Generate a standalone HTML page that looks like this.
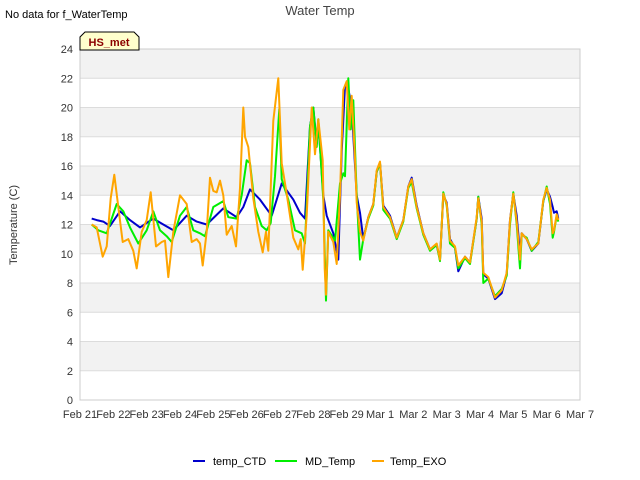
<!DOCTYPE html>
<html><head><meta charset="utf-8"><style>
body{margin:0;background:#fff;font-family:"Liberation Sans","DejaVu Sans",sans-serif;}
svg{display:block}
</style></head><body>
<svg id="c" width="640" height="480" xmlns="http://www.w3.org/2000/svg">
<text x="5" y="18" font-size="11" fill="#000">No data for f_WaterTemp</text>
<text x="320" y="15" font-size="13" fill="#444" text-anchor="middle">Water Temp</text>
<g id="plot"></g>
<text transform="translate(17,225) rotate(-90)" font-size="11" fill="#333" text-anchor="middle">Temperature (C)</text>
<g>
<path d="M80,50 L80,37 L85,32 L134,32 L139,37 L139,50 Z" fill="#ffffcc" stroke="#000" stroke-width="1"/>
<text x="109" y="46" font-size="11" font-weight="bold" fill="#8b0000" text-anchor="middle">HS_met</text>
</g>
<g>
<g><line x1="193" y1="461" x2="205" y2="461" stroke="#0000cc" stroke-width="2"/><text x="213" y="465" font-size="11">temp_CTD</text></g>
<g><line x1="275" y1="461" x2="297" y2="461" stroke="#00ee00" stroke-width="2"/><text x="305" y="465" font-size="11">MD_Temp</text></g>
<g><line x1="372" y1="461" x2="384" y2="461" stroke="#ffa500" stroke-width="2"/><text x="390" y="465" font-size="11">Temp_EXO</text></g>
</g>
</svg>
<script>
const xTickLabels=["Feb 21","Feb 22","Feb 23","Feb 24","Feb 25","Feb 26","Feb 27","Feb 28","Feb 29","Mar 1","Mar 2","Mar 3","Mar 4","Mar 5","Mar 6","Mar 7"];
const yTicks=[0,2,4,6,8,10,12,14,16,18,20,22,24];
const lateT=[8.65,8.8,8.9,9.0,9.1,9.3,9.5,9.7,9.85,9.95,10.1,10.3,10.5,10.7,10.8,10.9,11.0,11.1,11.25,11.35,11.55,11.7,11.9,11.95,12.05,12.1,12.25,12.45,12.65,12.8,12.9,13.0,13.1,13.2,13.25,13.4,13.55,13.75,13.9,14.0,14.1,14.18,14.22,14.3,14.35];
const lateExo=[12.5,13.4,15.7,16.3,13.2,12.5,11.1,12.3,14.6,15.1,13.2,11.4,10.3,10.7,9.6,14.1,13.4,10.9,10.5,9.2,9.8,9.4,12.5,13.8,12.2,8.7,8.4,7.0,7.5,8.7,12.3,14.1,12.2,9.6,11.4,11.0,10.3,10.7,13.7,14.5,13.7,11.4,11.6,12.7,12.3];
const lateMd=[12.4,13.3,15.6,16.2,13.0,12.4,11.0,12.2,14.5,14.9,13.1,11.3,10.2,10.6,9.5,14.2,13.3,10.7,10.4,9.0,9.7,9.3,12.4,13.9,12.0,8.0,8.3,7.1,7.6,8.5,12.0,14.2,12.0,9.0,11.3,11.1,10.2,10.8,13.6,14.6,13.4,11.1,11.5,12.6,12.2];
const lateCtd=[12.5,13.4,15.6,16.2,13.3,12.6,11.1,12.3,14.6,15.2,13.3,11.4,10.3,10.6,9.6,14.0,13.5,11.0,10.4,8.8,9.8,9.4,12.4,13.9,12.4,8.6,8.3,6.9,7.3,8.6,12.3,14.1,12.6,10.0,11.4,11.0,10.2,10.7,13.6,14.4,13.9,13.2,12.8,12.9,12.4];
const exoT=[0.35,0.5,0.68,0.8,0.92,1.03,1.15,1.28,1.45,1.6,1.7,1.85,2.0,2.12,2.28,2.45,2.55,2.65,2.8,3.0,3.2,3.35,3.5,3.6,3.68,3.8,3.9,4.0,4.1,4.2,4.3,4.4,4.55,4.68,4.8,4.9,4.95,5.05,5.2,5.35,5.48,5.58,5.65,5.8,5.95,6.05,6.2,6.4,6.55,6.62,6.68,6.8,6.95,7.05,7.15,7.28,7.34,7.38,7.45,7.6,7.7,7.8,7.9,8.0,8.08,8.15,8.25,8.3,8.4,8.5];
const exoV=[12.0,11.8,9.8,10.5,13.8,15.4,13.2,10.8,11.0,10.2,9.0,11.5,12.3,14.2,10.5,10.8,10.9,8.4,11.5,14.0,13.4,10.8,11.0,10.7,9.2,11.5,15.2,14.3,14.2,15.0,14.0,11.3,11.9,10.5,14.5,20.0,18.0,17.3,13.8,11.5,10.1,11.5,10.2,19.1,22.0,16.2,14.1,11.1,10.3,11.0,8.9,12.6,20.0,16.8,19.2,16.4,9.0,7.2,11.5,10.8,9.3,14.0,21.2,21.8,18.5,20.8,16.5,13.5,11.5,10.9];
const mdT=[0.35,0.55,0.8,1.1,1.3,1.5,1.75,2.0,2.2,2.4,2.6,2.75,3.0,3.2,3.4,3.6,3.75,4.0,4.3,4.45,4.7,4.85,5.0,5.1,5.25,5.45,5.6,5.72,5.85,5.98,6.05,6.25,6.45,6.65,6.75,6.9,7.0,7.1,7.15,7.3,7.38,7.45,7.65,7.8,7.9,7.95,8.05,8.12,8.2,8.3,8.4,8.5];
const mdV=[12.0,11.6,11.4,13.4,12.9,11.8,10.7,11.6,12.9,11.6,11.2,10.8,12.6,13.2,11.6,11.4,11.2,13.2,13.6,12.5,12.4,14.0,16.4,16.2,13.2,11.9,11.6,12.1,15.3,19.9,15.1,13.7,11.6,11.4,10.7,18.7,20.0,17.3,19.2,13.7,6.8,11.6,10.9,14.8,15.5,15.3,22.0,18.5,20.5,14.0,9.6,11.0];
const ctdT=[0.35,0.5,0.7,0.9,1.2,1.5,1.8,2.2,2.5,2.8,3.2,3.5,3.8,4.3,4.7,4.9,5.1,5.4,5.75,6.05,6.4,6.6,6.75,6.9,7.0,7.1,7.15,7.3,7.4,7.6,7.75,7.85,7.95,8.05,8.15,8.3,8.4,8.5];
const ctdV=[12.4,12.3,12.2,11.9,12.9,12.3,11.8,12.4,12.0,11.6,12.6,12.2,12.0,13.1,12.5,13.2,14.4,13.7,12.6,14.8,13.7,12.8,12.4,18.7,20.0,17.5,19.0,14.0,12.6,11.4,9.6,17.0,21.5,21.3,20.0,14.0,12.8,11.0];

const X0=80,X1=580,Y0=400,Y1=49;
const xs=t=>X0+(X1-X0)*t/(xTickLabels.length-1);
const ys=v=>Y0-(Y0-Y1)*v/24;
const NS="http://www.w3.org/2000/svg";
const plot=document.getElementById('plot');
function mk(tag,attrs,parent){const e=document.createElementNS(NS,tag);for(const k in attrs)e.setAttribute(k,attrs[k]);(parent||plot).appendChild(e);return e;}
// bands
for(let v=2;v<24;v+=4){
 const r=mk('rect',{x:X0,y:ys(v+2),width:X1-X0,height:ys(v)-ys(v+2),fill:'#f2f2f2'});
 
 
}
yTicks.forEach(v=>{
 const l=mk('line',{x1:X0,x2:X1,y1:ys(v),y2:ys(v),stroke:'#dcdcdc','stroke-width':1});
 
 
 const t=mk('text',{x:X0-7,y:ys(v)+4,'font-size':11,'text-anchor':'end',fill:'#333'});
 t.textContent=v;
 
 
});
mk('rect',{x:X0,y:Y1,width:X1-X0,height:Y0-Y1,fill:'none',stroke:'#ccc'});
xTickLabels.forEach((s,i)=>{
 const t=mk('text',{x:xs(i),y:Y0+18,'font-size':11,'text-anchor':'middle',fill:'#333'});
 t.textContent=s;
 
 
});
function series(t,v,lt,lv,color,name){
 const T=t.concat(lt),V=v.concat(lv);
 const d=T.map((tt,i)=>(i?'L':'M')+xs(tt).toFixed(1)+','+ys(V[i]).toFixed(1)).join('');
 const p=mk('path',{d:d,fill:'none',stroke:color,'stroke-width':2,'stroke-linejoin':'round'});
 
 
}
series(ctdT,ctdV,lateT,lateCtd,'#0000cc','temp-ctd-line');
series(mdT,mdV,lateT,lateMd,'#00ee00','md-temp-line');
series(exoT,exoV,lateT,lateExo,'#ffa500','temp-exo-line');
</script>
</body></html>
